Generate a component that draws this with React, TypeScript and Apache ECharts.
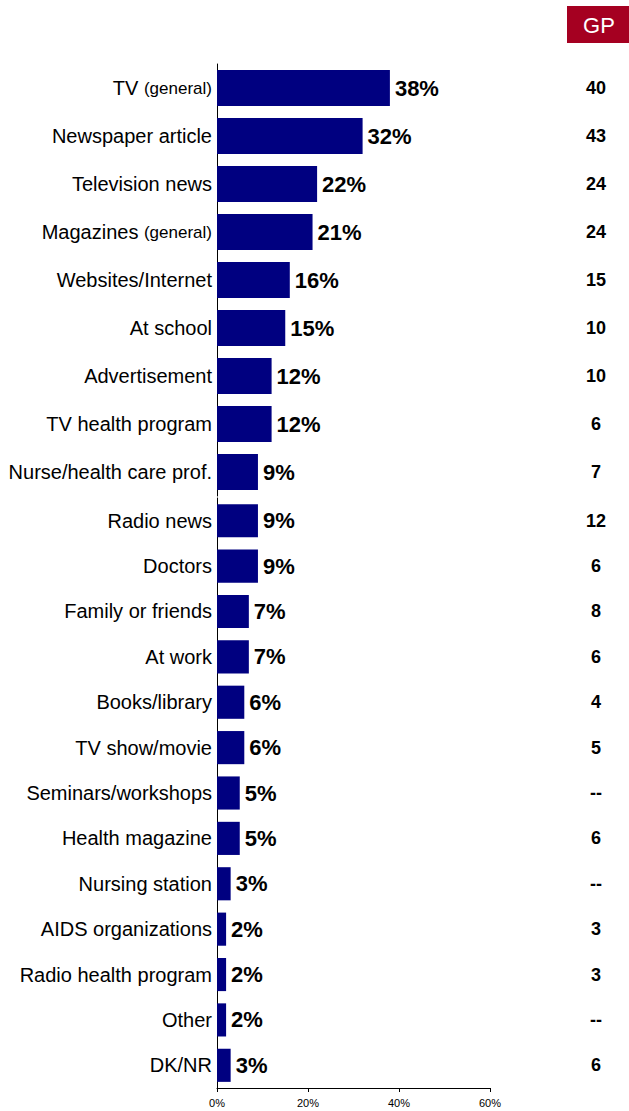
import React, { useEffect, useRef } from "react";
import * as echarts from "echarts";

const categoriesTop = [
  "TV (general)",
  "Newspaper article",
  "Television news",
  "Magazines (general)",
  "Websites/Internet",
  "At school",
  "Advertisement",
  "TV health program",
  "Nurse/health care prof.",
];
const valuesTop = [38, 32, 22, 21, 16, 15, 12, 12, 9];
const gpTop = ["40", "43", "24", "24", "15", "10", "10", "6", "7"];

const categoriesBottom = [
  "Radio news",
  "Doctors",
  "Family or friends",
  "At work",
  "Books/library",
  "TV show/movie",
  "Seminars/workshops",
  "Health magazine",
  "Nursing station",
  "AIDS organizations",
  "Radio health program",
  "Other",
  "DK/NR",
];
const valuesBottom = [9, 9, 7, 7, 6, 6, 5, 5, 3, 2, 2, 2, 3];
const gpBottom = ["12", "6", "8", "6", "4", "5", "--", "6", "--", "3", "3", "--", "6"];

const xTicks = [0, 20, 40, 60];

const FONT = "'Liberation Sans', Arial, sans-serif";
const BAR = "#000080";

export default function App() {
  const ref = useRef<HTMLDivElement>(null);
  useEffect(() => {
    if (!ref.current) return;
    const chart = echarts.init(ref.current, undefined, { renderer: "svg" });
    const catLabel = {
      fontSize: 20,
      color: "#000",
      fontFamily: FONT,
      margin: 5,
      formatter: (v: string) => v.replace("(general)", "{s|(general)}"),
      rich: { s: { fontSize: 17, color: "#000", fontFamily: FONT } },
    };
    const gpLabel = {
      fontSize: 18,
      fontWeight: "bold",
      color: "#000",
      fontFamily: FONT,
      margin: 106,
      align: "center",
    };
    const valLabel = {
      show: true,
      position: "right",
      distance: 5,
      formatter: "{c}%",
      fontSize: 22,
      fontWeight: "bold",
      color: "#000",
      fontFamily: FONT,
    };
    const xBase = {
      type: "value",
      min: xTicks[0],
      max: xTicks[xTicks.length - 1],
      interval: 20,
      splitLine: { show: false },
    };
    chart.setOption({
      animation: false,
      backgroundColor: "#fff",
      grid: [
        { left: 217, right: 139, top: 64, height: 432 },
        { left: 217, right: 139, top: 498, height: 590 },
      ],
      xAxis: [
        { ...xBase, gridIndex: 0, show: false },
        {
          ...xBase,
          gridIndex: 1,
          axisLine: { show: true, lineStyle: { color: "#000", width: 1 } },
          axisTick: { show: true, length: 4, lineStyle: { color: "#000" } },
          axisLabel: {
            formatter: "{value}%",
            fontSize: 11,
            color: "#000",
            fontFamily: FONT,
            margin: 9,
          },
        },
      ],
      yAxis: [
        {
          type: "category",
          gridIndex: 0,
          data: categoriesTop,
          inverse: true,
          axisLine: { show: true, lineStyle: { color: "#000", width: 1 } },
          axisTick: { show: false },
          axisLabel: catLabel,
        },
        {
          type: "category",
          gridIndex: 0,
          position: "right",
          data: gpTop,
          inverse: true,
          axisLine: { show: false },
          axisTick: { show: false },
          axisLabel: gpLabel,
        },
        {
          type: "category",
          gridIndex: 1,
          data: categoriesBottom,
          inverse: true,
          axisLine: { show: true, lineStyle: { color: "#000", width: 1 } },
          axisTick: { show: false },
          axisLabel: catLabel,
        },
        {
          type: "category",
          gridIndex: 1,
          position: "right",
          data: gpBottom,
          inverse: true,
          axisLine: { show: false },
          axisTick: { show: false },
          axisLabel: gpLabel,
        },
      ],
      series: [
        {
          type: "bar",
          xAxisIndex: 0,
          yAxisIndex: 0,
          data: valuesTop,
          barCategoryGap: "25%",
          itemStyle: { color: BAR },
          label: valLabel,
        },
        {
          type: "bar",
          xAxisIndex: 1,
          yAxisIndex: 2,
          data: valuesBottom,
          barCategoryGap: "27%",
          itemStyle: { color: BAR },
          label: valLabel,
        },
      ],
      graphic: [
        {
          type: "rect",
          shape: { x: 567, y: 6, width: 62, height: 37 },
          style: { fill: "#A50021" },
        },
        {
          type: "text",
          x: 599,
          y: 25,
          style: {
            text: "GP",
            fill: "#fff",
            fontSize: 22,
            fontFamily: FONT,
            align: "center",
            verticalAlign: "middle",
          },
        },
      ],
    });
    return () => chart.dispose();
  }, []);
  return (
    <div
      ref={ref}
      style={{ position: "fixed", left: 0, top: 0, width: 629, height: 1111 }}
    />
  );
}
